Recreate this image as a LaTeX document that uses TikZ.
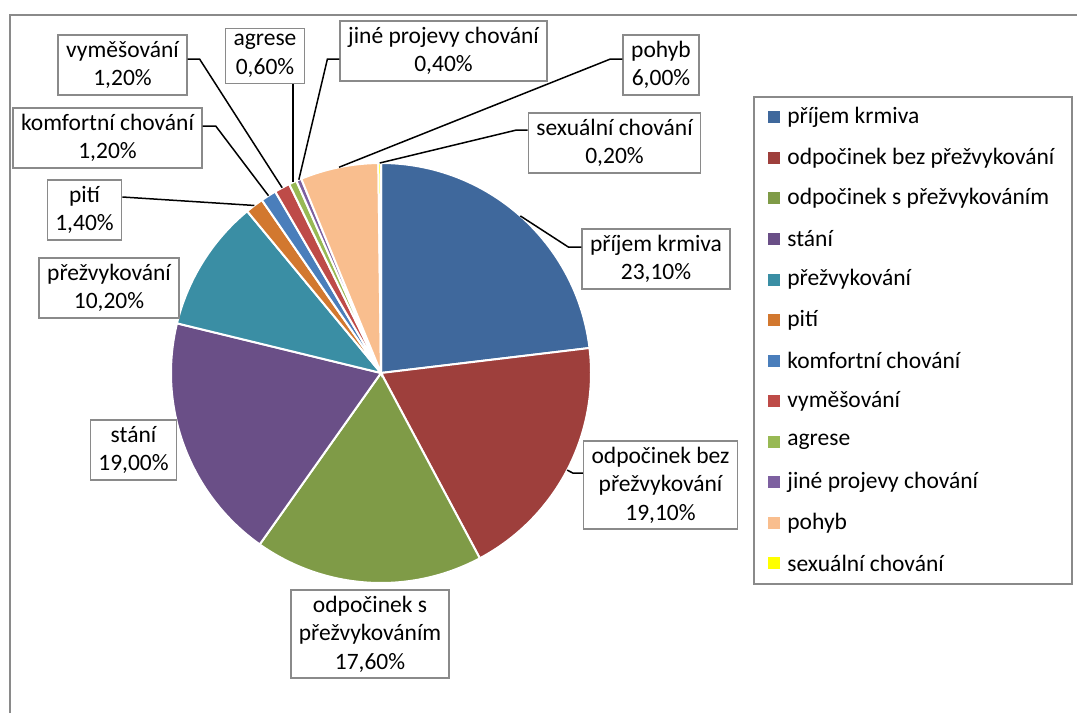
\documentclass[tikz,border=0pt]{standalone}
\usepackage{fontspec}
\setmainfont{Carlito}
\usepackage{tikz}
\usetikzlibrary{positioning}
\definecolor{krm}{HTML}{3F689C}
\definecolor{bez}{HTML}{9E3F3C}
\definecolor{spr}{HTML}{7F9B47}
\definecolor{stani}{HTML}{6A4F87}
\definecolor{prezv}{HTML}{3A8EA4}
\definecolor{piti}{HTML}{D2782F}
\definecolor{komf}{HTML}{4A7EBB}
\definecolor{vymes}{HTML}{BE4B48}
\definecolor{agr}{HTML}{98B954}
\definecolor{jine}{HTML}{7D60A0}
\definecolor{pohyb}{HTML}{F9BE8E}
\definecolor{sex}{HTML}{FFFF00}
\definecolor{boxgray}{HTML}{8A8A8A}
\tikzstyle{lbl} = [draw=boxgray, line width=1.5pt, fill=white, align=center, inner xsep=8pt, inner ysep=6pt, font=\fontsize{23.5}{28.5}\selectfont]
\tikzstyle{leader} = [line width=1.5pt, black]
\tikzstyle{key} = [minimum size=12pt, inner sep=0pt]

\begin{document}
\begin{tikzpicture}[x=1pt,y=-1pt]
\useasboundingbox (0,0) rectangle (1077,713);
\draw[boxgray, line width=1.5pt] (10,713) -- (10,15) -- (1077,15);

\coordinate (c) at (381,373);
\gdef\sa{-90}
\foreach \val/\col in {23.1/krm, 19.1/bez, 17.6/spr, 19.0/stani, 10.2/prezv, 1.4/piti,
    1.2/komf, 1.2/vymes, 0.6/agr, 0.4/jine, 6.0/pohyb, 0.2/sex} {
    \pgfmathsetmacro\sb{\sa+3.6*\val}
    \pgfmathsetmacro\sm{(\sa+\sb)/2}
    \fill[\col, draw=white, line width=2pt] (c) -- ++(\sa:210) arc[start angle=\sa, end angle=\sb, radius=210] -- cycle;
    \path (c) ++(\sm:210) coordinate (p\col);
    \xdef\sa{\sb}
}

% data labels
\node[lbl] (lkrm) at (656,259) {příjem krmiva\\23,10\%};
\node[lbl] (lbez) at (660.5,485) {odpočinek bez\\přežvykování\\19,10\%};
\node[lbl] (lspr) at (370,634) {odpočinek s\\přežvykováním\\17,60\%};
\node[lbl] (lstani) at (133.5,450) {stání\\19,00\%};
\node[lbl] (lprezv) at (109,288) {přežvykování\\10,20\%};
\node[lbl] (lpiti) at (84.5,210) {pití\\1,40\%};
\node[lbl] (lkomf) at (107.5,138) {komfortní chování\\1,20\%};
\node[lbl] (lvymes) at (122.5,65) {vyměšování\\1,20\%};
\node[lbl] (lagr) at (265,56) {agrese\\0,60\%};
\node[lbl] (ljine) at (443.5,51) {jiné projevy chování\\0,40\%};
\node[lbl] (lpohyb) at (661,65) {pohyb\\6,00\%};
\node[lbl] (lsex) at (614.5,143) {sexuální chování\\0,20\%};

\draw[leader] (lkrm.west) ++(0,-12) -- ++(-13,0) -- (pkrm);
\draw[leader] (lbez.west) ++(0,-12) -- ++(-10,0) -- (pbez);
\draw[leader] (lpiti.east) ++(0,-13) -- (ppiti);
\draw[leader] (lkomf.east) ++(0,-12) -- ++(13,0) -- (pkomf);
\draw[leader] (lvymes.east) ++(0,-6) -- ++(12,0) -- (pvymes);
\draw[leader] (pagr |- lagr.south) -- (pagr);
\draw[leader] (ljine.west) ++(0,8) -- ++(-12,0) -- (pjine);
\draw[leader] (lpohyb.west) ++(0,-6) -- ++(-12,0) -- (ppohyb);
\draw[leader] (lsex.west) ++(0,-13) -- ++(-11,0) -- (psex);

% legend
\node[draw=boxgray, line width=1.5pt, minimum width=318pt, minimum height=487pt] (legend) at (913,340.5) {};
\foreach \col/\txt [count=\i] in {krm/příjem krmiva, bez/odpočinek bez přežvykování,
    spr/odpočinek s přežvykováním, stani/stání, prezv/přežvykování, piti/pití,
    komf/komfortní chování, vymes/vyměšování, agr/agrese, jine/jiné projevy chování,
    pohyb/pohyb, sex/sexuální chování} {
    \node[key, fill=\col] (key\i) at (774,{117.3+(\i-1)*40.55}) {};
    \node[right=7pt of key\i, inner sep=0pt, font=\fontsize{23.5}{28.5}\selectfont] (txt\i) {\txt};
}
\end{tikzpicture}
\end{document}
